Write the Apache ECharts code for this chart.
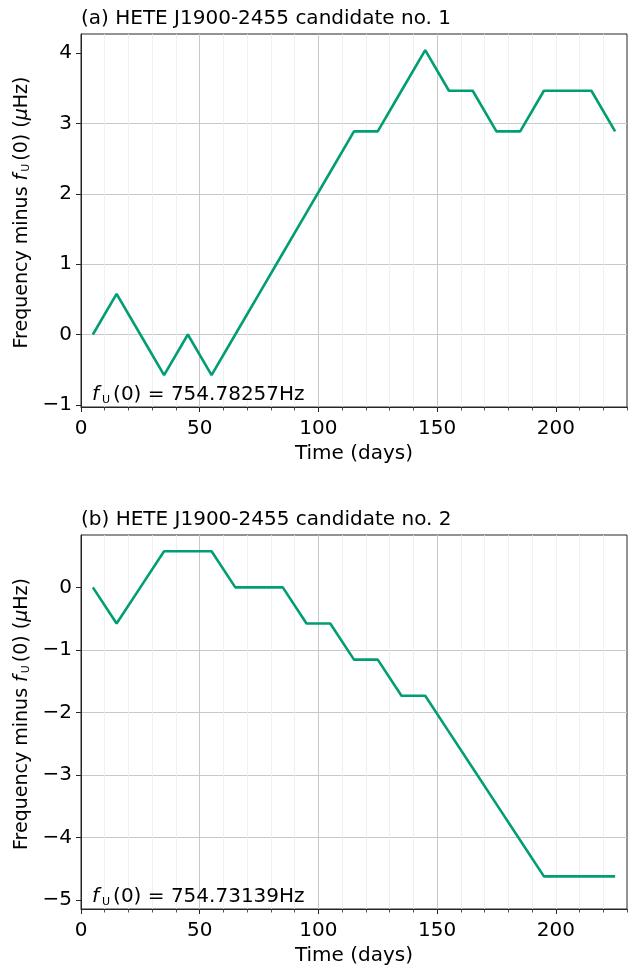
<!DOCTYPE html>
<html>
<head>
<meta charset="utf-8">
<script src="https://cdn.jsdelivr.net/npm/echarts@6/dist/echarts.min.js"></script>
<style>
  html, body { margin: 0; padding: 0; background: #fff; }
  #chart { width: 633px; height: 967px; }
</style>
</head>
<body>
<div id="chart"></div>
<script>
// Observation epochs (days) shared by both candidates
var days = [5, 15, 25, 35, 45, 55, 65, 75, 85, 95, 105, 115, 125, 135, 145, 155, 165, 175, 185, 195, 205, 215, 225];

// Frequency offset from f_U(0), in microhertz
var freqCandidate1 = [0, 0.577, 0, -0.577, 0, -0.577, 0, 0.577, 1.155, 1.732, 2.309, 2.887, 2.887, 3.464, 4.041, 3.464, 3.464, 2.887, 2.887, 3.464, 3.464, 3.464, 2.887];
var freqCandidate2 = [0, -0.577, 0, 0.577, 0.577, 0.577, 0, 0, 0, -0.577, -0.577, -1.155, -1.155, -1.732, -1.732, -2.309, -2.887, -3.464, -4.041, -4.619, -4.619, -4.619, -4.619];

// Tick labels
var xMajorTicks = [0, 50, 100, 150, 200];
var yTicks1 = [-1, 0, 1, 2, 3, 4];
var yTicks2 = [-5, -4, -3, -2, -1, 0];

var titles = ['(a) HETE J1900-2455 candidate no. 1', '(b) HETE J1900-2455 candidate no. 2'];
var refFreqs = ['754.78257Hz', '754.73139Hz'];

var FONT = 'DejaVu Sans';
var FS = 20;
var INK = '#262626';
var LINE_COLOR = '#029e73';

function pairs(xs, ys) {
  return xs.map(function (x, i) { return [x, ys[i]]; });
}
function fmtMinus(v) {
  return v < 0 ? '\u2212' + Math.abs(v) : String(v);
}

var grids = [
  { left: 81, top: 34, width: 546, height: 373 },
  { left: 81, top: 535, width: 546, height: 375 }
];

function minorX(gi) {
  return {
    type: 'value', gridIndex: gi, position: 'bottom', min: 0, max: 230, interval: 10,
    axisLine: { show: true, onZero: false, lineStyle: { color: INK, width: 1 } },
    axisTick: { show: true, length: 3.5, lineStyle: { color: INK, width: 0.8 } },
    axisLabel: { show: false },
    splitLine: { show: true, showMinLine: false, showMaxLine: false, lineStyle: { color: '#ececec', width: 0.8 } }
  };
}
function majorX(gi) {
  return {
    type: 'value', gridIndex: gi, position: 'bottom', min: 0, max: 230,
    name: 'Time (days)', nameLocation: 'middle', nameGap: 37,
    nameTextStyle: { fontFamily: FONT, fontSize: FS, color: '#000' },
    axisLine: { show: false, onZero: false },
    axisTick: { show: true, length: 5, customValues: xMajorTicks, lineStyle: { color: INK, width: 1 } },
    axisLabel: { show: true, customValues: xMajorTicks, margin: 12, fontFamily: FONT, fontSize: FS, color: '#000' },
    splitLine: { show: true, showMinLine: false, showMaxLine: false, lineStyle: { color: '#c8c8c8', width: 1 } }
  };
}
function yAxisFor(gi, min, max, ticks) {
  return {
    type: 'value', gridIndex: gi, position: 'left', min: min, max: max,
    name: 'Frequency minus {i|f}{sub|U}(0) ({i|\u03bc}Hz)',
    nameLocation: 'middle', nameRotate: 90, nameGap: 47,
    nameTextStyle: {
      fontFamily: FONT, fontSize: 19, color: '#000', padding: [0, 0, 0, 16],
      rich: {
        i: { fontFamily: FONT, fontSize: 19, fontStyle: 'italic', color: '#000' },
        sub: { fontFamily: FONT, fontSize: 11, color: '#000', padding: [9, 3, 0, 2] }
      }
    },
    axisLine: { show: true, onZero: false, lineStyle: { color: INK, width: 1 } },
    axisTick: { show: true, length: 5, customValues: ticks, lineStyle: { color: INK, width: 1 } },
    axisLabel: { show: true, customValues: ticks, margin: 9, fontFamily: FONT, fontSize: FS, color: '#000', formatter: fmtMinus },
    splitLine: { show: true, showMinLine: false, showMaxLine: false, lineStyle: { color: '#c8c8c8', width: 1 } }
  };
}

function annotation(top, freq) {
  return {
    type: 'text', left: 92, top: top, z: 100,
    style: {
      text: '{i|f}{sub|U}(0) = ' + freq,
      font: FS + 'px "DejaVu Sans"', fill: '#000',
      rich: {
        i: { fontFamily: FONT, fontSize: FS, fontStyle: 'italic', fill: '#000' },
        sub: { fontFamily: FONT, fontSize: 11, fill: '#000', padding: [10, 3, 0, 3] }
      }
    }
  };
}

var option = {
  backgroundColor: '#fff',
  animation: false,
  title: [
    { text: titles[0], left: 81, top: 9, padding: 0, textStyle: { fontFamily: FONT, fontSize: FS, fontWeight: 'normal', color: '#000' } },
    { text: titles[1], left: 81, top: 510, padding: 0, textStyle: { fontFamily: FONT, fontSize: FS, fontWeight: 'normal', color: '#000' } }
  ],
  grid: grids.map(function (g) {
    return Object.assign({ show: true, borderColor: INK, borderWidth: 1, backgroundColor: 'transparent' }, g);
  }),
  xAxis: [minorX(0), majorX(0), minorX(1), majorX(1)],
  yAxis: [yAxisFor(0, -1.03, 4.27, yTicks1), yAxisFor(1, -5.14, 0.837, yTicks2)],
  series: [
    {
      type: 'line', xAxisIndex: 1, yAxisIndex: 0, data: pairs(days, freqCandidate1),
      showSymbol: false, lineStyle: { color: LINE_COLOR, width: 2.6 }, itemStyle: { color: LINE_COLOR }, z: 10
    },
    {
      type: 'line', xAxisIndex: 3, yAxisIndex: 1, data: pairs(days, freqCandidate2),
      showSymbol: false, lineStyle: { color: LINE_COLOR, width: 2.6 }, itemStyle: { color: LINE_COLOR }, z: 10
    }
  ],
  graphic: [annotation(385, refFreqs[0]), annotation(887, refFreqs[1])]
};

var chart = echarts.init(document.getElementById('chart'), null, { renderer: 'canvas' });
chart.setOption(option);
</script>
</body>
</html>
